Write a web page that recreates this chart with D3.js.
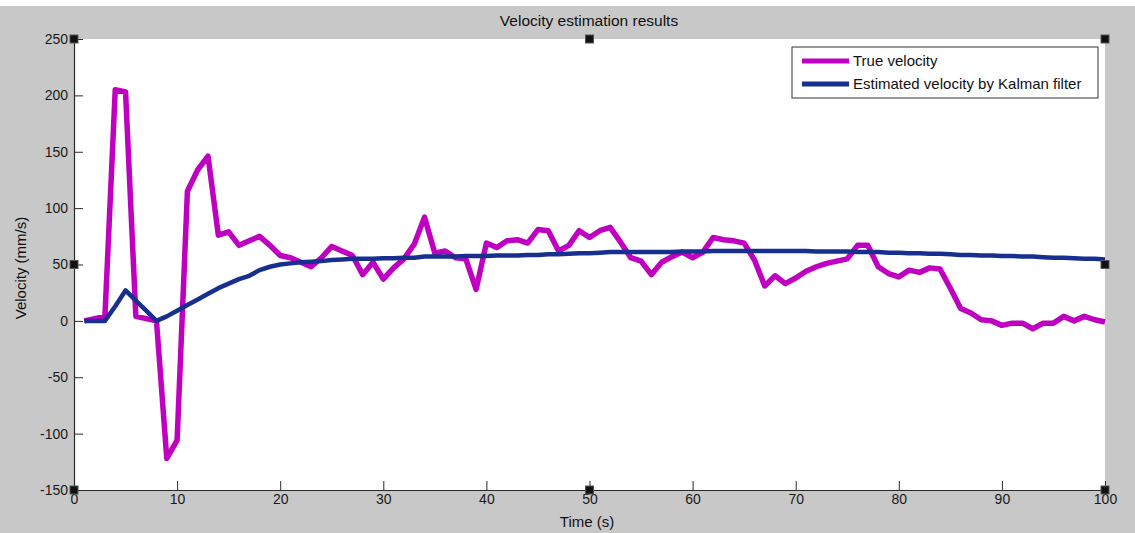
<!DOCTYPE html>
<html>
<head>
<meta charset="utf-8">
<script src="https://cdn.jsdelivr.net/npm/d3@7"></script>
<style>
  html, body { margin: 0; padding: 0; background: #ffffff; }
  svg { display: block; font-family: "Liberation Sans", Arial, sans-serif; }
</style>
</head>
<body>
<svg id="chart" width="1135" height="533"></svg>
<script>
// ---- data ----
const timeSeconds = [1,2,3,4,5,6,7,8,9,10,11,12,13,14,15,16,17,18,19,20,
  21,22,23,24,25,26,27,28,29,30,31,32,33,34,35,36,37,38,39,40,
  41,42,43,44,45,46,47,48,49,50,51,52,53,54,55,56,57,58,59,60,
  61,62,63,64,65,66,67,68,69,70,71,72,73,74,75,76,77,78,79,80,
  81,82,83,84,85,86,87,88,89,90,91,92,93,94,95,96,97,98,99,100];

const trueVelocity = [0,2,4,205,203,4,2,0,-122,-106,
  115,134,146,76,79,67,71,75,67,58,
  56,52,48,56,66,62,58,41,52,37,
  47,55,68,92,60,62,56,55,28,69,
  65,71,72,69,81,80,62,67,80,74,
  80,83,70,56,53,41,52,57,61,56,
  61,74,72,71,69,54,31,40,33,38,
  44,48,51,53,55,67,67,48,42,39,
  45,43,47,46,29,11,7,1,0,-4,
  -2,-2,-7,-2,-2,4,0,4,1,-1];

const kalmanVelocity = [0,0,0,13,27,18,9,0,4,9,
  14,19,24,29,33,37,40,45,48,50,
  51,52,52.5,53,54,54.5,55,55,55,55.5,
  55.5,56,56,57,57,57,57,57.5,57.5,57.5,
  58,58,58,58.5,58.5,59,59,59.5,60,60,
  60.5,61,61,61,61,61,61,61,61.5,61.5,
  61.5,62,62,62,62,62,62,62,62,62,
  62,61.5,61.5,61.5,61.5,61,61,61,60.5,60.5,
  60,60,59.5,59.5,59,58.5,58.5,58,58,57.5,
  57.5,57,57,56.5,56,56,55.5,55,55,54.5];

const xTicks = [0,10,20,30,40,50,60,70,80,90,100];
const yTicks = [-150,-100,-50,0,50,100,150,200,250];
const seriesNames = ["True velocity", "Estimated velocity by Kalman filter"];
const titleText = "Velocity estimation results";
const xLabelText = "Time (s)";
const yLabelText = "Velocity (mm/s)";

// ---- layout ----
const W = 1135, H = 533;
const plot = { left: 74, top: 39, right: 1105, bottom: 490 };
const colors = { true: "#c000c0", kalman: "#17308f" };

const svg = d3.select("#chart");

// figure background
svg.append("rect").attr("x", 0).attr("y", 6).attr("width", W).attr("height", H - 6).attr("fill", "#c8c8c8");
// plot area
svg.append("rect")
  .attr("x", plot.left).attr("y", plot.top)
  .attr("width", plot.right - plot.left).attr("height", plot.bottom - plot.top)
  .attr("fill", "#ffffff");

const x = d3.scaleLinear().domain([0, 100]).range([plot.left, plot.right]);
const y = d3.scaleLinear().domain([-150, 250]).range([plot.bottom, plot.top]);

// axes (plain hyphen for negatives, as in the original)
const fmt = d => String(d);
const xAxis = d3.axisBottom(x).tickValues(xTicks).tickFormat(fmt)
  .tickSizeInner(-9).tickSizeOuter(0).tickPadding(4);
const yAxis = d3.axisLeft(y).tickValues(yTicks).tickFormat(fmt)
  .tickSizeInner(-9).tickSizeOuter(0).tickPadding(6);

const gx = svg.append("g").attr("transform", `translate(0,${plot.bottom})`).call(xAxis);
const gy = svg.append("g").attr("transform", `translate(${plot.left},0)`).call(yAxis);
[gx, gy].forEach(g => {
  g.select(".domain").attr("stroke", "#2a2a2a").attr("stroke-width", 1.2);
  g.selectAll(".tick line").attr("stroke", "#2a2a2a");
  g.selectAll(".tick text").attr("fill", "#1a1a1a").style("font-size", "14px")
    .style("font-family", "'Liberation Sans', Arial, sans-serif");
});

// lines
const lineGen = vals => d3.line()
  .x((d, i) => x(timeSeconds[i]))
  .y(d => y(d))(vals);

svg.append("path").attr("d", lineGen(trueVelocity))
  .attr("fill", "none").attr("stroke", colors.true).attr("stroke-width", 5.5)
  .attr("stroke-linejoin", "round");
svg.append("path").attr("d", lineGen(kalmanVelocity))
  .attr("fill", "none").attr("stroke", colors.kalman).attr("stroke-width", 4.5)
  .attr("stroke-linejoin", "round");

// selection handles
const handles = [
  [plot.left, plot.top], [(plot.left + plot.right) / 2, plot.top], [plot.right, plot.top],
  [plot.left, (plot.top + plot.bottom) / 2], [plot.right, (plot.top + plot.bottom) / 2],
  [plot.left, plot.bottom], [(plot.left + plot.right) / 2, plot.bottom], [plot.right, plot.bottom]
];
svg.selectAll("rect.handle").data(handles).enter().append("rect")
  .attr("class", "handle")
  .attr("x", d => d[0] - 4).attr("y", d => d[1] - 4)
  .attr("width", 8).attr("height", 8)
  .attr("fill", "#111").attr("stroke", "#555").attr("stroke-width", 1);

// title and labels
svg.append("text").attr("x", 589).attr("y", 26).attr("text-anchor", "middle")
  .style("font-size", "15.5px").attr("fill", "#111").text(titleText);
svg.append("text").attr("x", 587).attr("y", 527).attr("text-anchor", "middle")
  .style("font-size", "15px").attr("fill", "#111").text(xLabelText);
svg.append("text").attr("transform", `translate(26,268) rotate(-90)`).attr("text-anchor", "middle")
  .style("font-size", "15px").attr("fill", "#111").text(yLabelText);

// legend
const lg = svg.append("g");
lg.append("rect").attr("x", 792).attr("y", 47).attr("width", 306).attr("height", 51)
  .attr("fill", "#fff").attr("stroke", "#333").attr("stroke-width", 1);
const legendItems = [
  { name: seriesNames[0], color: colors.true, y: 61 },
  { name: seriesNames[1], color: colors.kalman, y: 84 }
];
legendItems.forEach(it => {
  lg.append("line").attr("x1", 802).attr("x2", 849).attr("y1", it.y).attr("y2", it.y)
    .attr("stroke", it.color).attr("stroke-width", 5);
  lg.append("text").attr("x", 853).attr("y", it.y + 5).style("font-size", "15px")
    .attr("fill", "#111").text(it.name);
});
</script>
</body>
</html>
